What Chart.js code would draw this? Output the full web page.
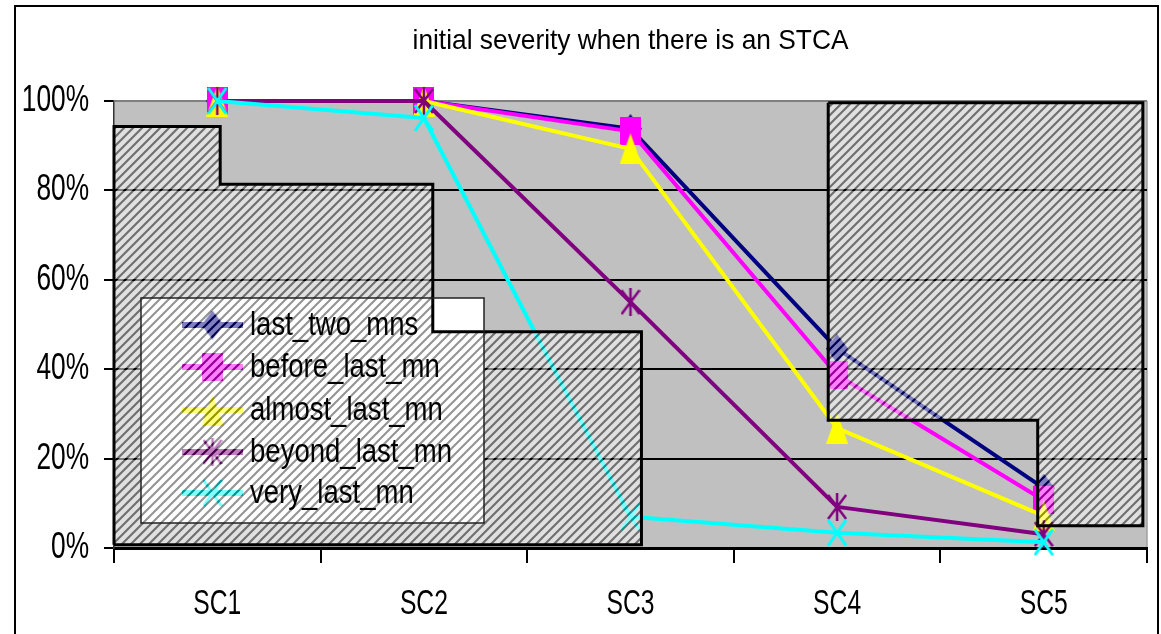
<!DOCTYPE html>
<html><head><meta charset="utf-8">
<script src="https://cdn.jsdelivr.net/npm/chart.js@4.4.1/dist/chart.umd.min.js"></script>
<style>
html,body{margin:0;padding:0;background:#fff;width:1161px;height:634px;overflow:hidden;}
#frame{position:absolute;left:14px;top:5px;width:1145px;height:700px;border:2.5px solid #000;box-sizing:border-box;}
#wrap{position:absolute;left:0;top:0;width:1161px;height:634px;}
</style></head><body>
<div id="frame"></div>
<div id="wrap"><canvas id="c" width="1161" height="634"></canvas></div>
<script>
// ---- data ----
const categories = ['SC1', 'SC2', 'SC3', 'SC4', 'SC5'];
const seriesNames = ['last_two_mns', 'before_last_mn', 'almost_last_mn', 'beyond_last_mn', 'very_last_mn'];
const lastTwoMns   = [100, 100, 93.8, 44.6, 13.4];
const beforeLastMn = [100, 100, 93.2, 38.7, 10.7];
const almostLastMn = [100, 100, 89.3, 26.8, 7.2];
const beyondLastMn = [100, 100, 55.0, 9.2, 3.1];
const veryLastMn   = [100, 96.2, 7.0, 3.4, 1.3];
const yTickValues = [0, 20, 40, 60, 80, 100];
// hatched step zones (x in category-index units, y in %)
const zoneLowX  = [-0.5, -0.5, 0.014, 0.014, 1.043, 1.043, 2.053, 2.053, -0.5];
const zoneLowY  = [0.7, 94.3, 94.3, 81.4, 81.4, 48.4, 48.4, 0.7, 0.7];
const zoneHighX = [2.957, 2.957, 3.971, 3.971, 4.48, 4.48, 2.957];
const zoneHighY = [99.6, 28.6, 28.6, 5.0, 5.0, 99.6, 99.6];
const chartTitle = 'initial severity when there is an STCA';

// ---- styles ----
const FONT = '"Liberation Sans", Arial, sans-serif';
const colors = ['#000080', '#ff00ff', '#ffff00', '#800080', '#00ffff'];
const canvas = document.getElementById('c');
const mainCtx = canvas.getContext('2d');

// condensed rendering of text (the reference uses a narrow face); keyed by font size
const condense = { 36: 0.73, 35: 0.705, 34: 0.81, 28: 0.94 };
const origFillText = mainCtx.fillText;
mainCtx.fillText = function (text, x, y, maxWidth) {
  const m = /(\d+(?:\.\d+)?)px/.exec(this.font);
  const sx = m ? condense[Math.round(parseFloat(m[1]))] : undefined;
  if (sx) {
    this.save(); this.translate(x, y); this.scale(sx, 1);
    origFillText.call(this, text, 0, 0);
    this.restore();
  } else if (maxWidth !== undefined) {
    origFillText.call(this, text, x, y, maxWidth);
  } else {
    origFillText.call(this, text, x, y);
  }
};

function makeHatch() {
  const s = 9;
  const c = document.createElement('canvas'); c.width = s; c.height = s;
  const g = c.getContext('2d');
  g.fillStyle = 'rgba(255,255,255,0.5)'; g.fillRect(0, 0, s, s);
  const path = () => { g.beginPath(); for (let k = -1; k <= 1; k++) { g.moveTo(k * s - 1, s + 1); g.lineTo(k * s + s + 1, -1); } };
  g.lineWidth = 2.1;
  g.globalCompositeOperation = 'destination-out'; g.strokeStyle = '#000'; path(); g.stroke();
  g.globalCompositeOperation = 'source-over'; g.strokeStyle = 'rgba(0,0,0,0.42)'; path(); g.stroke();
  return mainCtx.createPattern(c, 'repeat');
}
const hatch = makeHatch();

function mk(w, h, draw) { const c = document.createElement('canvas'); c.width = w; c.height = h; draw(c.getContext('2d'), w, h); return c; }
const markers = [
  mk(22, 29, (g, w, h) => { g.fillStyle = colors[0]; g.beginPath(); g.moveTo(w / 2, 0); g.lineTo(w, h / 2); g.lineTo(w / 2, h); g.lineTo(0, h / 2); g.closePath(); g.fill(); }),
  mk(21, 28, (g, w, h) => { g.fillStyle = colors[1]; g.fillRect(0, 0, w, h); }),
  mk(22, 31, (g, w, h) => { g.fillStyle = colors[2]; g.beginPath(); g.moveTo(w / 2, 0); g.lineTo(w, h); g.lineTo(0, h); g.closePath(); g.fill(); }),
  mk(20, 28, (g, w, h) => { g.strokeStyle = colors[3]; g.lineWidth = 2.5; g.beginPath(); g.moveTo(w / 2, 0); g.lineTo(w / 2, h); g.moveTo(1, 2); g.lineTo(w - 1, h - 2); g.moveTo(w - 1, 2); g.lineTo(1, h - 2); g.stroke(); }),
  mk(20, 28, (g, w, h) => { g.strokeStyle = colors[4]; g.lineWidth = 3; g.beginPath(); g.moveTo(1, 1); g.lineTo(w - 1, h - 1); g.moveTo(w - 1, 1); g.lineTo(1, h - 1); g.stroke(); })
];

const seriesValues = [lastTwoMns, beforeLastMn, almostLastMn, beyondLastMn, veryLastMn];
const seriesSets = seriesValues.map((v, i) => ({
  type: 'line', label: seriesNames[i], data: v, xAxisID: 'x', yAxisID: 'y',
  borderColor: colors[i], backgroundColor: colors[i], borderWidth: 4,
  borderJoinStyle: 'round', tension: 0, fill: false, clip: false,
  pointStyle: markers[i], pointRadius: 10, order: 5 - i
}));
function zoneSet(xs, ys, name) {
  return {
    type: 'line', label: name, data: xs.map((x, i) => ({ x: x, y: ys[i] })), xAxisID: 'x2', yAxisID: 'y',
    borderColor: '#000', borderWidth: 3, backgroundColor: hatch, fill: 'shape', borderJoinStyle: 'miter',
    pointRadius: 0, tension: 0, clip: false, order: 0
  };
}

const legendLayout = { left: 141, top: 298, right: 484, bottom: 523, rowY: [325, 367, 410, 452, 493], lineX0: 182, lineX1: 243, textX: 250 };

const plotBg = {
  id: 'plotBg',
  beforeDraw(chart) {
    const { ctx, chartArea: a } = chart;
    ctx.save(); ctx.fillStyle = '#c0c0c0'; ctx.fillRect(a.left, a.top, a.right - a.left, a.bottom - a.top);
    ctx.strokeStyle = '#a0a0a0'; ctx.lineWidth = 1.5; ctx.beginPath(); ctx.moveTo(a.right, a.top); ctx.lineTo(a.right, a.bottom); ctx.stroke();
    ctx.restore();
  }
};
const boxLegend = {
  id: 'boxLegend',
  beforeDatasetsDraw(chart) {
    const L = legendLayout, ctx = chart.ctx;
    ctx.save();
    ctx.fillStyle = '#fff'; ctx.fillRect(L.left, L.top, L.right - L.left, L.bottom - L.top);
    seriesNames.forEach((n, i) => {
      const y = L.rowY[i];
      ctx.strokeStyle = colors[i]; ctx.lineWidth = 6; ctx.beginPath(); ctx.moveTo(L.lineX0, y); ctx.lineTo(L.lineX1, y); ctx.stroke();
      const m = markers[i]; ctx.drawImage(m, (L.lineX0 + L.lineX1) / 2 - m.width / 2, y - m.height / 2);
    });
    ctx.restore();
  },
  afterDatasetsDraw(chart) {
    const L = legendLayout, ctx = chart.ctx;
    ctx.save();
    ctx.strokeStyle = '#222'; ctx.lineWidth = 1.5; ctx.strokeRect(L.left, L.top, L.right - L.left, L.bottom - L.top);
    ctx.fillStyle = '#000'; ctx.font = '34px ' + FONT; ctx.textBaseline = 'middle'; ctx.textAlign = 'left';
    seriesNames.forEach((n, i) => ctx.fillText(n, L.textX, L.rowY[i] + 1));
    ctx.restore();
  }
};

new Chart(canvas, {
  type: 'line',
  data: { labels: categories, datasets: [...seriesSets, zoneSet(zoneLowX, zoneLowY, 'zone_low'), zoneSet(zoneHighX, zoneHighY, 'zone_high')] },
  options: {
    responsive: false, animation: false, devicePixelRatio: 1,
    layout: { padding: { left: 0, right: 7, top: 0, bottom: 0 } },
    plugins: {
      legend: { display: false }, tooltip: { enabled: false },
      title: { display: true, text: chartTitle, fullSize: false, color: '#000',
        font: { family: FONT, size: 28, weight: 'normal', lineHeight: 1.2 }, padding: { top: 24, bottom: 43.4 } }
    },
    scales: {
      x: {
        type: 'category', offset: true,
        grid: { display: true, drawOnChartArea: false, offset: true, tickLength: 15, color: '#000', tickColor: '#000', lineWidth: 2 },
        border: { display: true, color: '#000', width: 3 },
        ticks: { color: '#000', font: { family: FONT, size: 35 }, padding: 20, maxRotation: 0, autoSkip: false },
        afterFit(s) { s.height = 86; }
      },
      x2: { type: 'linear', display: false, min: -0.5, max: 4.5 },
      y: {
        min: 0, max: 100,
        afterBuildTicks(s) { s.ticks = yTickValues.map(v => ({ value: v })); },
        ticks: { callback: v => v + '%', color: '#000', font: { family: FONT, size: 36 }, padding: 15 },
        grid: { color: c => (c.tick && c.tick.value === 100 ? '#808080' : '#000'), lineWidth: 2, tickLength: 10, tickColor: '#000' },
        border: { color: '#333', width: 1.5 },
        afterFit(s) { s.width = 114; }
      }
    }
  },
  plugins: [plotBg, boxLegend]
});
</script>
</body></html>
